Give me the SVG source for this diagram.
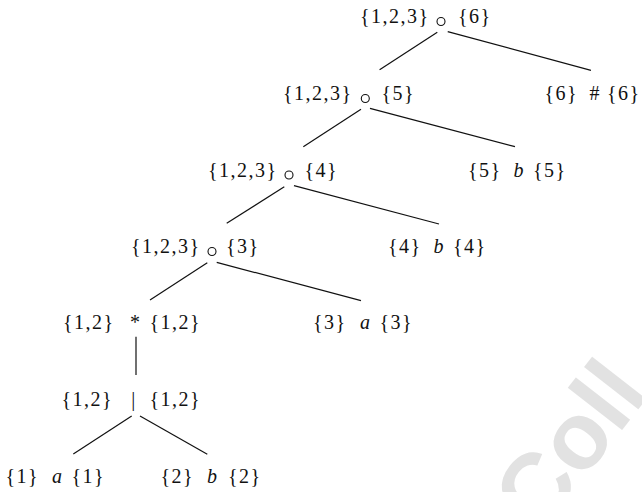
<svg xmlns="http://www.w3.org/2000/svg" width="642" height="492" viewBox="0 0 642 492">
<style>
text{font-family:"Liberation Serif","Times New Roman",serif;font-size:20px;fill:#111}
.s{letter-spacing:1.5px}
.i{font-style:italic}
.e{stroke:#111;stroke-width:1.2;fill:none}
.c{stroke:#111;stroke-width:1.1;fill:#fff}
.wm{font-family:"Liberation Sans",Arial,sans-serif;font-weight:bold;font-size:95px;fill:#e2e2e2}
</style>
<rect width="642" height="492" fill="#fff"/>
<text class="wm" transform="translate(540,535) rotate(-52)">Coll</text>
<g id="connectors">
<line class="e" x1="437.3" y1="32.3" x2="379.6" y2="69.7"/>
<line class="e" x1="447.7" y1="31.7" x2="591" y2="70.3"/>
<line class="e" x1="361" y1="109.3" x2="303.3" y2="146.7"/>
<line class="e" x1="370" y1="108.3" x2="515" y2="146.7"/>
<line class="e" x1="284.3" y1="186.7" x2="226.7" y2="223.3"/>
<line class="e" x1="294" y1="185.7" x2="439" y2="224"/>
<line class="e" x1="207.3" y1="262.7" x2="150" y2="300"/>
<line class="e" x1="216.7" y1="262.3" x2="361" y2="300.7"/>
<line class="e" x1="136" y1="336.7" x2="136" y2="375"/>
<line class="e" x1="131.7" y1="416" x2="73.3" y2="454"/>
<line class="e" x1="140" y1="416" x2="207.3" y2="454.3"/>
</g>
<g id="n1">
<text class="s" x="360" y="23">{1,2,3}</text>
<circle class="c" cx="441" cy="21.5" r="4"/>
<text class="s" x="458" y="23">{6}</text>
</g>
<g id="n2">
<text class="s" x="283" y="100">{1,2,3}</text>
<circle class="c" cx="365.3" cy="98.5" r="4"/>
<text class="s" x="381.5" y="100">{5}</text>
</g>
<g id="leaf6">
<text class="s" x="544.5" y="100">{6}</text>
<text x="589.5" y="100">#</text>
<text class="s" x="607" y="100">{6}</text>
</g>
<g id="n3">
<text class="s" x="208" y="176.5">{1,2,3}</text>
<circle class="c" cx="289" cy="175" r="4"/>
<text class="s" x="304.5" y="176.5">{4}</text>
</g>
<g id="leaf5">
<text class="s" x="468" y="176.5">{5}</text>
<text class="i" x="513.5" y="176.5">b</text>
<text class="s" x="533" y="176.5">{5}</text>
</g>
<g id="n4">
<text class="s" x="131" y="253">{1,2,3}</text>
<circle class="c" cx="212" cy="251.5" r="4"/>
<text class="s" x="226" y="253">{3}</text>
</g>
<g id="leaf4">
<text class="s" x="388" y="253">{4}</text>
<text class="i" x="433.5" y="253">b</text>
<text class="s" x="453" y="253">{4}</text>
</g>
<g id="n5">
<text class="s" x="63" y="329">{1,2}</text>
<text x="130" y="329">*</text>
<text class="s" x="149.5" y="329">{1,2}</text>
</g>
<g id="leaf3">
<text class="s" x="313" y="329">{3}</text>
<text class="i" x="360" y="329">a</text>
<text class="s" x="379.5" y="329">{3}</text>
</g>
<g id="n6">
<text class="s" x="61.5" y="406">{1,2}</text>
<text x="131.3" y="406">|</text>
<text class="s" x="149.5" y="406">{1,2}</text>
</g>
<g id="leaf1">
<text class="s" x="5.5" y="483">{1}</text>
<text class="i" x="52" y="483">a</text>
<text class="s" x="71.5" y="483">{1}</text>
</g>
<g id="leaf2">
<text class="s" x="160.5" y="483">{2}</text>
<text class="i" x="207" y="483">b</text>
<text class="s" x="228" y="483">{2}</text>
</g>
</svg>
